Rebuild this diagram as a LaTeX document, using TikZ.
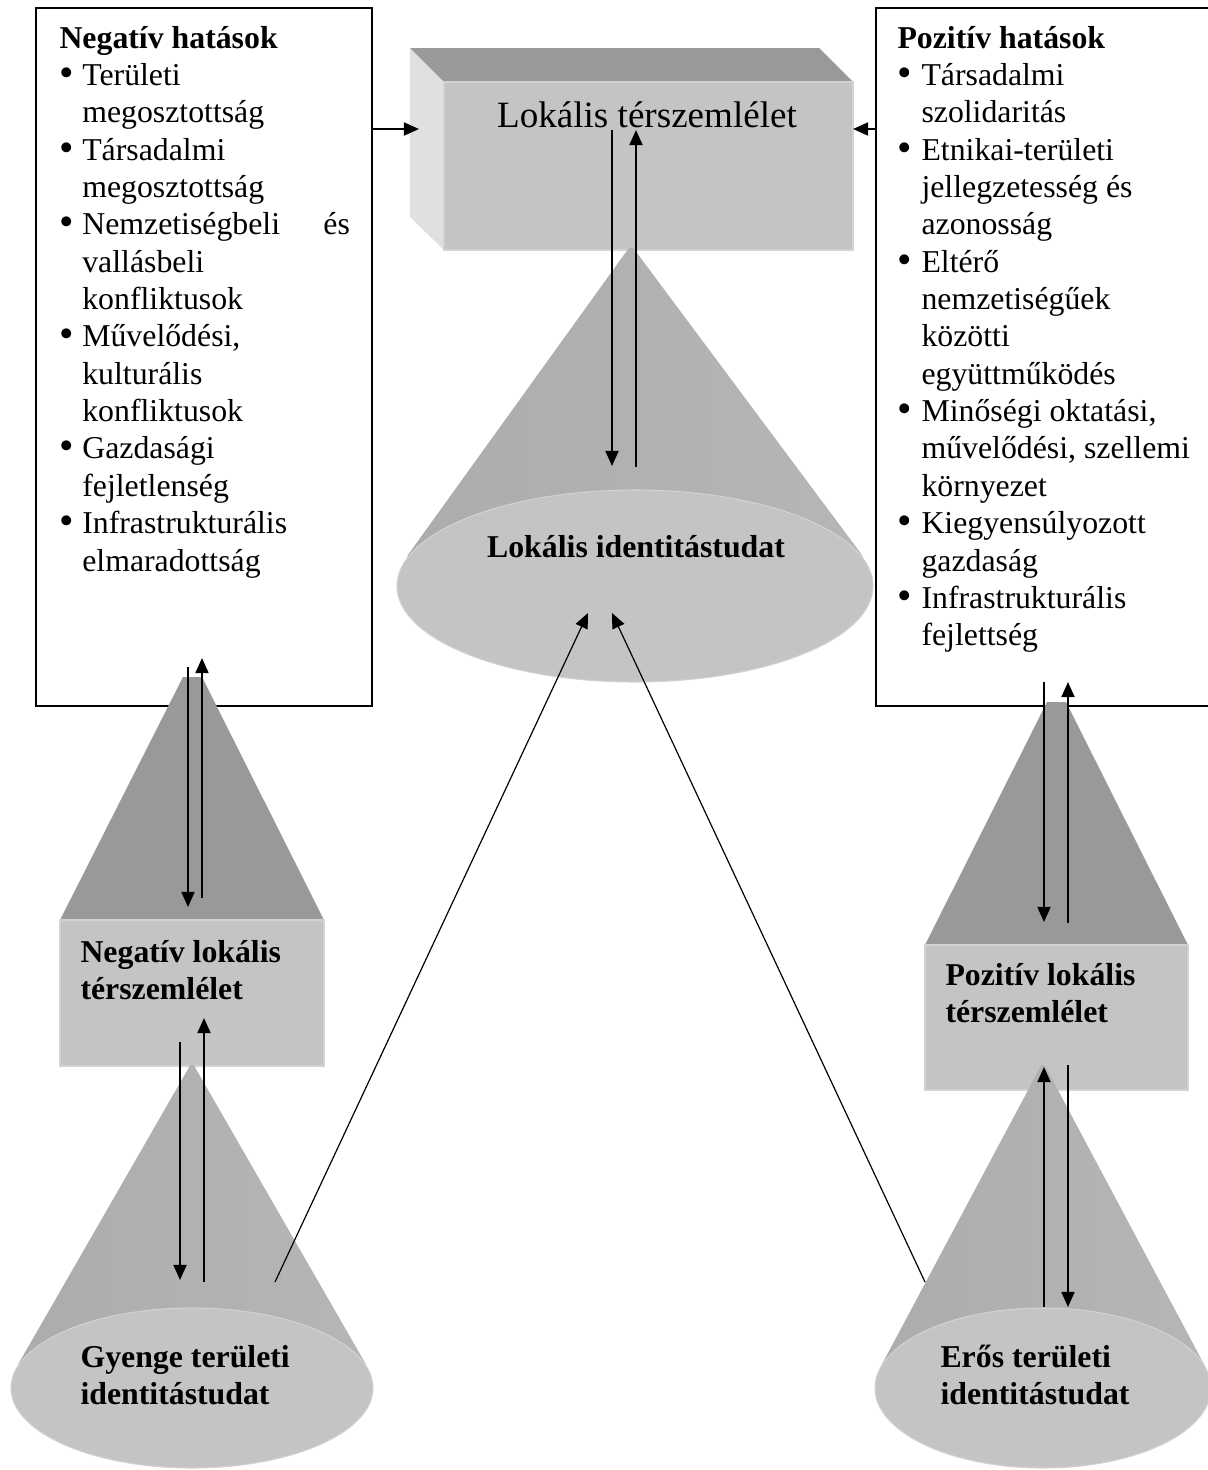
\documentclass[tikz,border=0pt]{standalone}
\usepackage{fontspec}
\setmainfont{Liberation Serif}
\usetikzlibrary{arrows.meta}
\definecolor{frontg}{HTML}{C4C4C4}
\definecolor{topg}{HTML}{999999}
\definecolor{sideg}{HTML}{E0E0E0}
\definecolor{edgeg}{HTML}{D2D2D2}
\definecolor{coneL}{HTML}{ACACAC}
\definecolor{coneM}{HTML}{9B9B9B}
\definecolor{coneR}{HTML}{B6B6B6}
\newcommand\mybul[1]{\leavevmode\hbox to #1{\raisebox{-0.35pt}{\scalebox{1.3}{\textbullet}}\hss}}
\newcommand\myind[1]{\leavevmode\hbox to #1{\hss}}
\newcommand\mylines[2]{\vtop{\hsize=#1\parindent=0pt\fontsize{12}{14.1}\selectfont #2}}
\begin{document}
\begin{tikzpicture}[x=0.3774pt,y=-0.3774pt,
  boxline/.style={draw=black,line width=0.75pt,fill=white},
  arr/.style={-{Triangle[length=5.7pt,width=4.9pt]},line width=0.75pt},
  thinarr/.style={-{Triangle[length=5.7pt,width=4.9pt]},line width=0.45pt},
  conebody/.style={left color=coneL,middle color=coneM,right color=coneR,rounded corners=2pt},
  conebase/.style={fill=frontg,draw=edgeg,line width=0.4pt},
  txt/.style={inner sep=0pt,font=\fontsize{12}{14.1}\selectfont}]
\useasboundingbox (0,0) rectangle (1208,1470);

% side boxes
\draw[boxline] (36,8) rectangle (372,706);
\draw[boxline] (876,8) rectangle (1214,706);

% 3D box
\fill[sideg] (410,48) -- (444,82) -- (444,250) -- (410,217) -- cycle;
\fill[topg] (410,48) -- (819,48) -- (853,82) -- (444,82) -- cycle;
\filldraw[fill=frontg,draw=edgeg,line width=0.4pt] (444,82) rectangle (853,250);
\node[anchor=base,inner sep=0pt,font=\fontsize{14}{16}\selectfont] (lt) at (647,127) {Lokális térszemlélet};

% center cone
\shade[conebody] (405,559) -- (631,245) -- (865,559) -- cycle;
\path[conebase] (635,586) ellipse [x radius=238,y radius=96];
\node[txt,anchor=base,font=\fontsize{12}{14.1}\selectfont\bfseries] (li) at (636,557) {Lokális identitástudat};

% left pyramid + box
\fill[topg] (183,677) -- (202,677) -- (324,920) -- (60,920) -- cycle;
\filldraw[fill=frontg,draw=edgeg,line width=0.4pt] (60,920) rectangle (324,1066);
\node[txt,anchor=base west] (nl) at (80,962) {\mylines{120pt}{\bfseries Negatív lokális\par térszemlélet}};

% right pyramid + box
\fill[topg] (1047,702) -- (1066,702) -- (1188,945) -- (925,945) -- cycle;
\filldraw[fill=frontg,draw=edgeg,line width=0.4pt] (925,945) rectangle (1188,1090);
\node[txt,anchor=base west] (pl) at (945,985) {\mylines{120pt}{\bfseries Pozitív lokális\par térszemlélet}};

% lower left cone
\shade[conebody] (16,1368) -- (192,1062) -- (368,1368) -- cycle;
\path[conebase] (192,1388) ellipse [x radius=181,y radius=80];
\node[txt,anchor=base west] (gy) at (80,1367) {\mylines{120pt}{\bfseries Gyenge területi\par identitástudat}};

% lower right cone
\shade[conebody] (880,1368) -- (1043,1062) -- (1206,1368) -- cycle;
\path[conebase] (1043,1388) ellipse [x radius=168,y radius=80];
\node[txt,anchor=base west] (er) at (940,1367) {\mylines{120pt}{\bfseries Erős területi\par identitástudat}};

% lists
\node[txt,anchor=base west] (neg) at (59,48) {\mylines{120pt}{%
\textbf{Negatív hatások}\par
\mybul{8.6pt}Területi\par
\myind{8.6pt}megosztottság\par
\mybul{8.6pt}Társadalmi\par
\myind{8.6pt}megosztottság\par
\mybul{8.6pt}\hbox to 101pt{Nemzetiségbeli\hfill és}\par
\myind{8.6pt}vallásbeli\par
\myind{8.6pt}konfliktusok\par
\mybul{8.6pt}Művelődési,\par
\myind{8.6pt}kulturális\par
\myind{8.6pt}konfliktusok\par
\mybul{8.6pt}Gazdasági\par
\myind{8.6pt}fejletlenség\par
\mybul{8.6pt}Infrastrukturális\par
\myind{8.6pt}elmaradottság}};

\node[txt,anchor=base west] (pos) at (897,48) {\mylines{125pt}{%
\textbf{Pozitív hatások}\par
\mybul{9.05pt}Társadalmi\par
\myind{9.05pt}szolidaritás\par
\mybul{9.05pt}Etnikai-területi\par
\myind{9.05pt}jellegzetesség és\par
\myind{9.05pt}azonosság\par
\mybul{9.05pt}Eltérő\par
\myind{9.05pt}nemzetiségűek\par
\myind{9.05pt}közötti\par
\myind{9.05pt}együttműködés\par
\mybul{9.05pt}Minőségi oktatási,\par
\myind{9.05pt}művelődési, szellemi\par
\myind{9.05pt}környezet\par
\mybul{9.05pt}Kiegyensúlyozott\par
\myind{9.05pt}gazdaság\par
\mybul{9.05pt}Infrastrukturális\par
\myind{9.05pt}fejlettség}};

% connector end points
\coordinate (negE) at (372,129);
\coordinate (boxW) at (419,129);
\coordinate (posW) at (876,129);
\coordinate (boxE) at (853,129);
\coordinate (cd1) at (612,130);
\coordinate (cd2) at (612,466);
\coordinate (cu1) at (636,467);
\coordinate (cu2) at (636,130);
\coordinate (dg1) at (275,1282);
\coordinate (dg1t) at (588,613);
\coordinate (dg2) at (925,1282);
\coordinate (dg2t) at (612,613);
\coordinate (lpd1) at (188,667);
\coordinate (lpd2) at (188,907);
\coordinate (lpu1) at (202,898);
\coordinate (lpu2) at (202,658);
\coordinate (lld1) at (180,1042);
\coordinate (lld2) at (180,1280);
\coordinate (llu1) at (204,1282);
\coordinate (llu2) at (204,1018);
\coordinate (rpd1) at (1044,682);
\coordinate (rpd2) at (1044,922);
\coordinate (rpu1) at (1068,923);
\coordinate (rpu2) at (1068,682);
\coordinate (rlu1) at (1044,1307);
\coordinate (rlu2) at (1044,1067);
\coordinate (rld1) at (1068,1065);
\coordinate (rld2) at (1068,1307);

% arrows
\draw[arr] (negE) -- (boxW);
\draw[arr] (posW) -- (boxE);
\draw[arr] (cd1) -- (cd2);
\draw[arr] (cu1) -- (cu2);
\draw[thinarr] (dg1) -- (dg1t);
\draw[thinarr] (dg2) -- (dg2t);
\draw[arr] (lpd1) -- (lpd2);
\draw[arr] (lpu1) -- (lpu2);
\draw[arr] (lld1) -- (lld2);
\draw[arr] (llu1) -- (llu2);
\draw[arr] (rpd1) -- (rpd2);
\draw[arr] (rpu1) -- (rpu2);
\draw[arr] (rlu1) -- (rlu2);
\draw[arr] (rld1) -- (rld2);
\end{tikzpicture}
\end{document}
